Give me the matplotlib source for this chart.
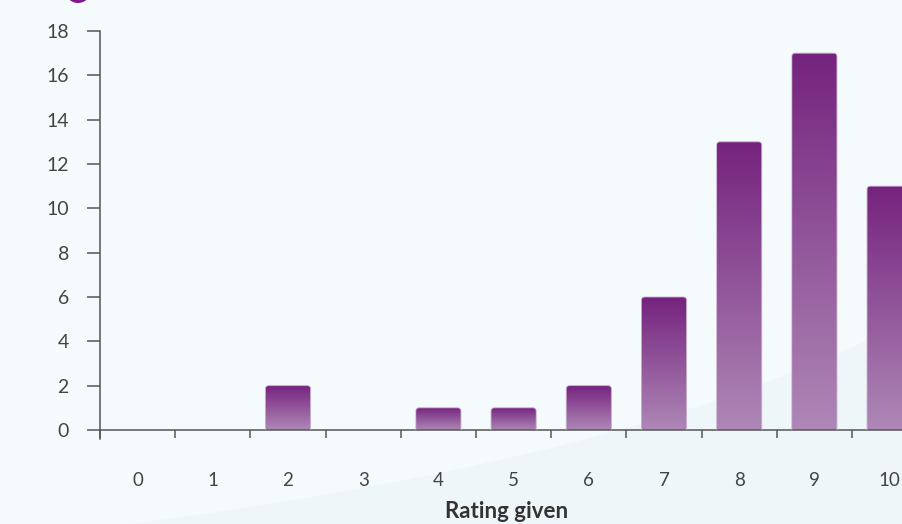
import numpy as np
import matplotlib
matplotlib.use("Agg")
import matplotlib.pyplot as plt
from matplotlib.patches import FancyBboxPatch, PathPatch, Ellipse
from matplotlib.path import Path
from matplotlib.colors import LinearSegmentedColormap

ratings = [0, 1, 2, 3, 4, 5, 6, 7, 8, 9, 10]
counts = [0, 0, 2, 0, 1, 1, 2, 6, 13, 17, 11]
y_ticks = [0, 2, 4, 6, 8, 10, 12, 14, 16, 18]

plt.rcParams["font.family"] = ["Lato", "DejaVu Sans"]

W, H = 903, 524
fig = plt.figure(figsize=(W / 100, H / 100), dpi=100)
fig.patch.set_facecolor("#f5fafc")

# soft background swoosh in the lower part
verts = [(100, 528), (400, 490), (700, 430), (903, 322), (903, 528), (100, 528)]
codes = [Path.MOVETO, Path.CURVE4, Path.CURVE4, Path.CURVE4, Path.LINETO, Path.CLOSEPOLY]
verts = [(x / W, 1 - y / H) for x, y in verts]
fig.add_artist(PathPatch(Path(verts, codes), facecolor="#eff6f9", edgecolor="none",
                         transform=fig.transFigure, zorder=-5))

# purple dot peeking in at the top
fig.add_artist(Ellipse((78 / W, 1 + 10 / H), 26 / W, 26 / H, facecolor="#82198a",
                       edgecolor="none", transform=fig.transFigure))

ax = fig.add_axes([100 / W, 94 / H, 803 / W, 399 / H])
ax.set_facecolor("none")

xlim = (-0.5, -0.5 + 803 / 75.2)

cmap = LinearSegmentedColormap.from_list("bar", ["#ae88b6", "#75237e"])
grad = np.linspace(0, 1, 256).reshape(-1, 1)
width = 0.6
radius = 0.045
aspect = 75.2 / 22.17

bars = ax.bar(ratings, counts, width=width, color="none", edgecolor="none")
for b, v in zip(bars, counts):
    if v <= 0:
        continue
    x0 = b.get_x()
    patch = FancyBboxPatch((x0, -1), width, v + 1,
                           boxstyle=f"round,pad=0,rounding_size={radius}",
                           mutation_aspect=aspect, facecolor="none",
                           edgecolor="#c7adcc", linewidth=0.6, zorder=3)
    ax.add_patch(patch)
    im = ax.imshow(grad, extent=(x0, x0 + width, 0, v), origin="lower",
                   cmap=cmap, aspect="auto", zorder=2)
    im.set_clip_path(patch)

for s in ["top", "right"]:
    ax.spines[s].set_visible(False)
for s in ["left", "bottom"]:
    ax.spines[s].set_color("#555555")
    ax.spines[s].set_linewidth(1.1)

ax.set_yticks(y_ticks)
ax.tick_params(axis="y", length=9.4, width=1.1, color="#555555", pad=13,
               labelsize=14, labelcolor="#444444")

ax.set_xticks(ratings)
ax.set_xticks(np.arange(-0.5, 10.6, 1), minor=True)
ax.tick_params(axis="x", which="major", length=0, pad=30, labelsize=13.5,
               labelcolor="#444444")
ax.tick_params(axis="x", which="minor", length=6, width=1.1, color="#555555")

ax.set_xlim(*xlim)
ax.set_ylim(0, 18)
ax.spines["left"].set_bounds(-0.4, 18)

ax.set_xlabel("Rating given", fontsize=16, fontweight="bold", color="#333333")
ax.xaxis.set_label_coords((507 - 100) / 803, -(501 - 430) / 399)

fig.savefig("out.png", dpi=100, facecolor=fig.get_facecolor())
